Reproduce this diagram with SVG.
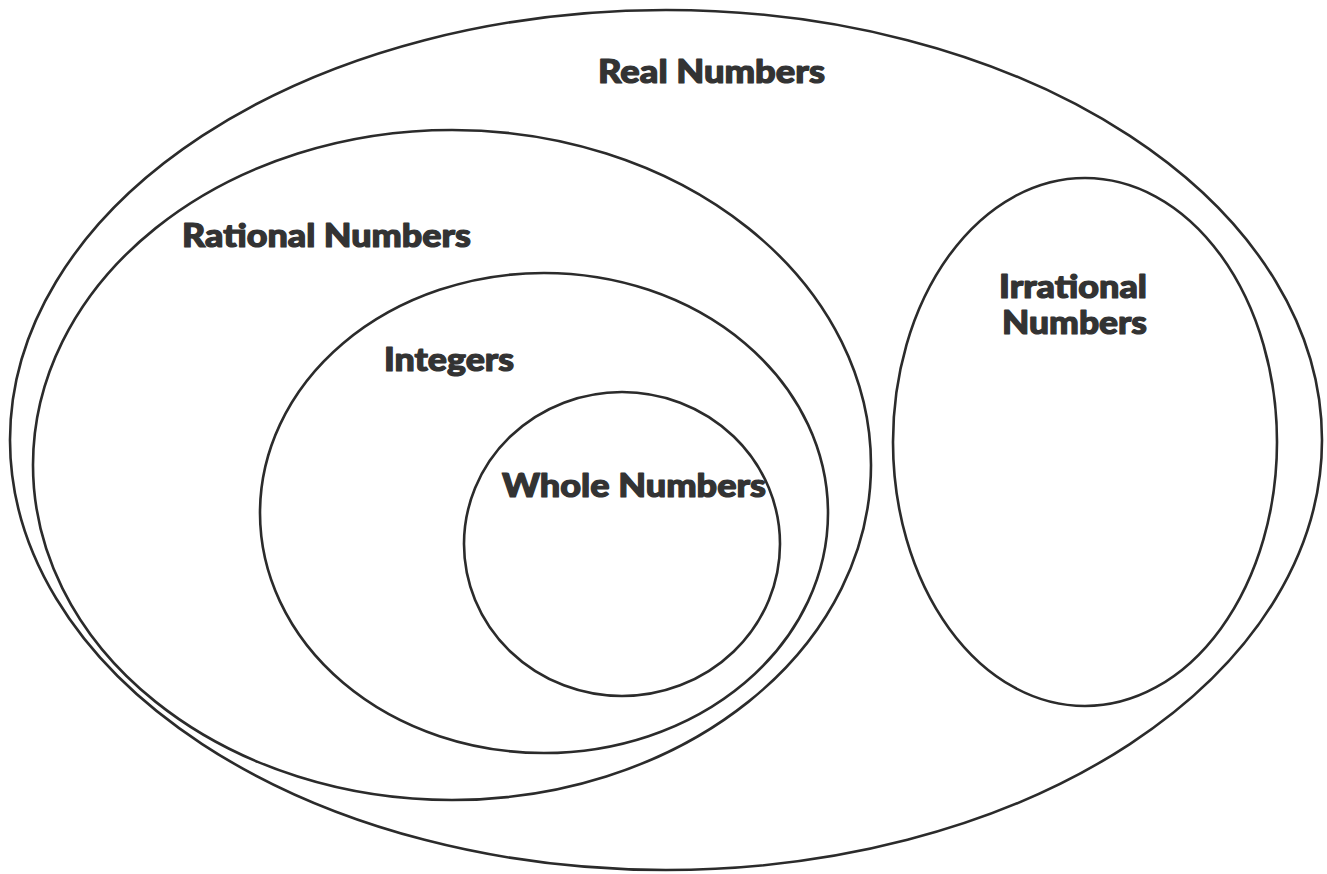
<svg xmlns="http://www.w3.org/2000/svg" width="1327" height="874" viewBox="0 0 1327 874">
<style>
.set{fill:none;stroke:#2b2b2b;stroke-width:2.6}
.lbl{font-family:Lato,"Open Sans","DejaVu Sans",sans-serif;font-weight:900;font-size:32px;fill:#333;stroke:#333;stroke-width:1.2;stroke-linejoin:round}
</style>
<rect width="1327" height="874" fill="#fff"/>
<g id="real"><ellipse class="set" cx="666" cy="440" rx="656" ry="430"/><text class="lbl" x="598" y="83" textLength="227" lengthAdjust="spacingAndGlyphs">Real Numbers</text></g>
<g id="rational"><ellipse class="set" cx="452" cy="465" rx="419" ry="335"/><text class="lbl" x="182" y="247" textLength="289" lengthAdjust="spacingAndGlyphs">Rational Numbers</text></g>
<g id="integers"><ellipse class="set" cx="544" cy="513" rx="284" ry="240"/><text class="lbl" x="384" y="371" textLength="130" lengthAdjust="spacingAndGlyphs">Integers</text></g>
<g id="whole"><ellipse class="set" cx="622" cy="544" rx="158" ry="152"/><text class="lbl" x="502" y="497" textLength="264" lengthAdjust="spacingAndGlyphs">Whole Numbers</text></g>
<g id="irrational"><ellipse class="set" cx="1085" cy="442" rx="192" ry="264"/><text class="lbl" x="999" y="298" textLength="148" lengthAdjust="spacingAndGlyphs">Irrational</text><text class="lbl" x="1002" y="334" textLength="145" lengthAdjust="spacingAndGlyphs">Numbers</text></g>
<g id="connectors"/>
</svg>
